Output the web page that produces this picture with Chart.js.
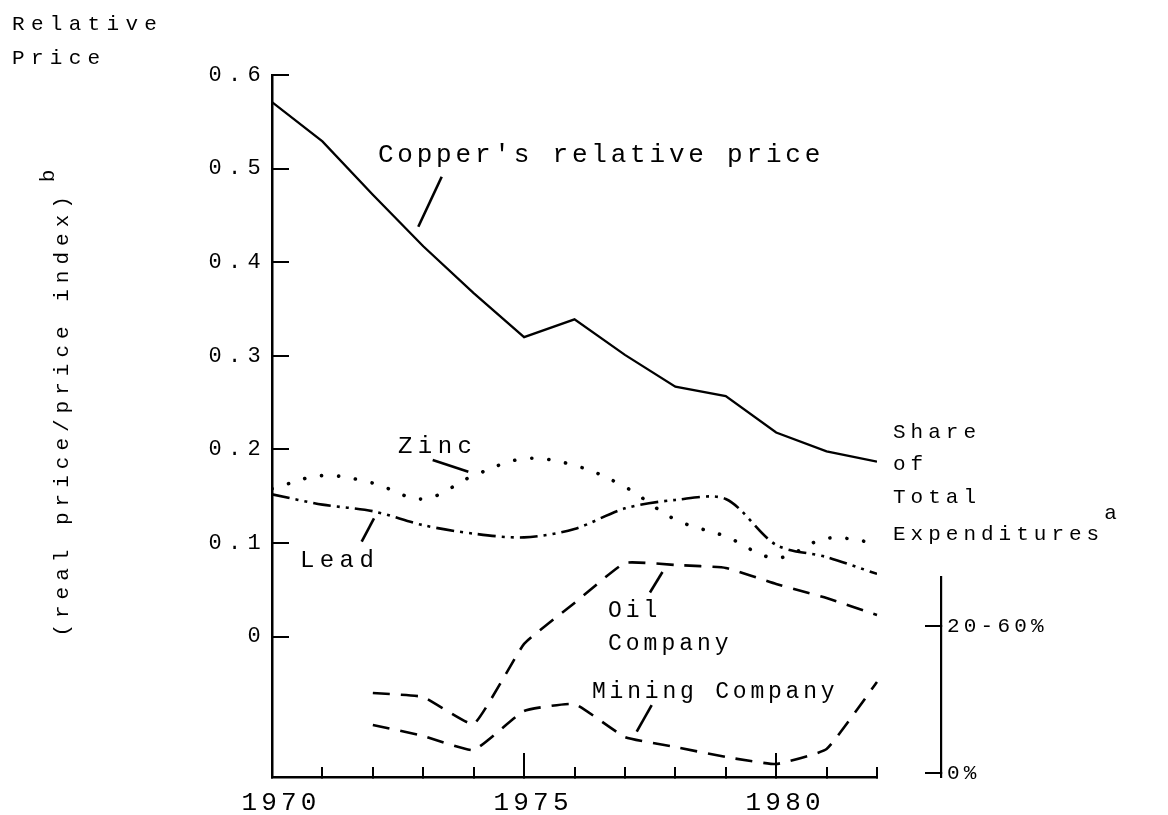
<!DOCTYPE html>
<html>
<head>
<meta charset="utf-8">
<script src="https://cdn.jsdelivr.net/npm/chart.js@4.4.1/dist/chart.umd.min.js"></script>
<style>
  html, body { margin: 0; padding: 0; background: #fff; }
  #wrap { width: 1168px; height: 815px; position: relative; }
</style>
</head>
<body>
<div id="wrap"><canvas id="c"></canvas></div>
<script>
// ---------- data ----------
const years = [1970, 1971, 1972, 1973, 1974, 1975, 1976, 1977, 1978, 1979, 1980, 1981, 1982];
const copperPrice = [0.571, 0.529, 0.472, 0.417, 0.367, 0.320, 0.339, 0.301, 0.267, 0.257, 0.218, 0.198, 0.187];
const zincPrice   = [0.158, 0.172, 0.164, 0.147, 0.172, 0.190, 0.183, 0.160, 0.125, 0.107, 0.084, 0.105, 0.100];
const leadPrice   = [0.152, 0.141, 0.134, 0.119, 0.110, 0.106, 0.115, 0.137, 0.146, 0.147, 0.098, 0.085, 0.067];

const shareYears = [1972, 1973, 1974, 1975, 1976, 1977, 1978, 1979, 1980, 1981, 1982];
// share axis units: 0 = "0%", 1 = "20-60%"
const oilCompanyShare    = [0.544, 0.517, 0.333, 0.878, 1.156, 1.429, 1.415, 1.395, 1.286, 1.190, 1.075];
const miningCompanyShare = [0.327, 0.252, 0.156, 0.422, 0.469, 0.245, 0.177, 0.109, 0.061, 0.163, 0.619];

const yTickValues = [0, 0.1, 0.2, 0.3, 0.4, 0.5, 0.6];
const xLabelYears = [1970, 1975, 1980];
const xMajorTickYears = [1975, 1980];
const shareTickValues = [0, 1];
const shareTickLabels = ['0%', '20-60%'];

// ---------- text annotations (data coordinates on x / y) ----------
const noteLines = [
  { text: "Copper's relative price", x: 1972.10, y: 0.507, size: 26, ls: 3.8 },
  { text: 'Zinc', x: 1972.50, y: 0.196, size: 24, ls: 5.4 },
  { text: 'Lead', x: 1970.555, y: 0.0744, size: 24, ls: 5.4 },
  { text: 'Oil', x: 1976.664, y: 0.0209, size: 23, ls: 4.0 },
  { text: 'Company', x: 1976.664, y: -0.0143, size: 23, ls: 4.0 },
  { text: 'Mining Company', x: 1976.347, y: -0.0656, size: 23, ls: 3.8 },
  { text: 'Share', x: 1982.317, y: 0.2122, size: 21, ls: 5.0 },
  { text: 'of', x: 1982.317, y: 0.178, size: 21, ls: 5.0 },
  { text: 'Total', x: 1982.317, y: 0.1427, size: 21, ls: 5.0 },
  { text: 'Expenditures', x: 1982.317, y: 0.1032, size: 21, ls: 5.0, sup: 'a', supRaise: 21 }
];
const leaderLines = [
  { from: [1973.366, 0.4913], to: [1972.902, 0.4379] },
  { from: [1973.187, 0.1887], to: [1973.894, 0.1762] },
  { from: [1972.023, 0.1264], to: [1971.779, 0.1014] },
  { from: [1977.745, 0.0690], to: [1977.497, 0.0471] },
  { from: [1977.531, -0.0731], to: [1977.234, -0.1016] }
];
const yAxisTitle = { text: '(real price/price index)', sup: 'b', size: 21, ls: 6.0, offsetLeft: 204, startValue: 0, supRaise: 14, supGap: 8 };

const FONT = "'Liberation Mono', 'DejaVu Sans Mono', monospace";
const INK = '#000';
const pts = (xs, ys) => xs.map((x, i) => ({ x: x, y: ys[i] }));

// letter spacing for library-drawn texts
const spacingPlugin = {
  id: 'spacing',
  beforeDraw(chart) { chart.ctx.letterSpacing = '6.3px'; },
  afterDatasetsDraw(chart) { chart.ctx.letterSpacing = '4.2px'; },
  afterDraw(chart) { chart.ctx.letterSpacing = '0px'; }
};

const notesPlugin = {
  id: 'notes',
  afterDraw(chart) {
    const { ctx, scales, chartArea } = chart;
    const X = v => scales.x.getPixelForValue(v);
    const Y = v => scales.y.getPixelForValue(v);
    ctx.save();
    ctx.fillStyle = INK;
    ctx.strokeStyle = INK;
    ctx.textAlign = 'left';
    ctx.textBaseline = 'alphabetic';
    for (const n of noteLines) {
      ctx.font = n.size + 'px ' + FONT;
      ctx.letterSpacing = n.ls + 'px';
      const px = X(n.x), py = Y(n.y);
      ctx.fillText(n.text, px, py);
      if (n.sup) {
        const w = n.text.length * (0.6 * n.size + n.ls);
        ctx.fillText(n.sup, px + w, py - n.supRaise);
      }
    }
    ctx.lineWidth = 2.6;
    ctx.lineCap = 'butt';
    for (const l of leaderLines) {
      ctx.beginPath();
      ctx.moveTo(X(l.from[0]), Y(l.from[1]));
      ctx.lineTo(X(l.to[0]), Y(l.to[1]));
      ctx.stroke();
    }
    // rotated y-axis title
    const t = yAxisTitle;
    ctx.save();
    ctx.translate(chartArea.left - t.offsetLeft, Y(t.startValue));
    ctx.rotate(-Math.PI / 2);
    ctx.font = t.size + 'px ' + FONT;
    ctx.letterSpacing = t.ls + 'px';
    ctx.fillText(t.text, 0, 0);
    const tw = t.text.length * (0.6 * t.size + t.ls);
    ctx.fillText(t.sup, tw + t.supGap, -t.supRaise);
    ctx.restore();
    ctx.restore();
  }
};

Chart.defaults.color = INK;
Chart.defaults.font.family = FONT;

const lineBase = { borderColor: INK, backgroundColor: INK, pointRadius: 0, pointHoverRadius: 0, fill: false };

new Chart(document.getElementById('c'), {
  type: 'line',
  data: {
    datasets: [
      Object.assign({}, lineBase, { label: "Copper's relative price", data: pts(years, copperPrice), borderWidth: 2.3, tension: 0, yAxisID: 'y', xAxisID: 'x' }),
      Object.assign({}, lineBase, { label: 'Zinc', data: pts(years, zincPrice), borderWidth: 3.6, borderDash: [0.1, 17], borderCapStyle: 'round', tension: 0.35, yAxisID: 'y', xAxisID: 'x' }),
      Object.assign({}, lineBase, { label: 'Lead', data: pts(years, leadPrice), borderWidth: 2.6, borderDash: [18, 6, 3, 6, 3, 6], tension: 0.3, yAxisID: 'y', xAxisID: 'x' }),
      Object.assign({}, lineBase, { label: 'Oil Company', data: pts(shareYears, oilCompanyShare), borderWidth: 2.6, borderDash: [17, 11], tension: 0.12, yAxisID: 'y2', xAxisID: 'x', clip: false }),
      Object.assign({}, lineBase, { label: 'Mining Company', data: pts(shareYears, miningCompanyShare), borderWidth: 2.6, borderDash: [17, 11], tension: 0.12, yAxisID: 'y2', xAxisID: 'x', clip: false })
    ]
  },
  options: {
    responsive: true,
    maintainAspectRatio: false,
    animation: false,
    events: [],
    layout: { padding: { left: 12, top: 0, right: 0, bottom: 0 } },
    plugins: {
      legend: { display: false },
      tooltip: { enabled: false },
      title: {
        display: true,
        text: ['Relative', 'Price'],
        align: 'start',
        color: INK,
        font: { family: FONT, size: 21, weight: 'normal', lineHeight: 34 / 21 },
        padding: { top: 7, bottom: 0 }
      }
    },
    scales: {
      x: {
        type: 'linear', position: 'bottom', min: 1970, max: 1982, weight: 0,
        afterBuildTicks: s => { s.ticks = years.map(v => ({ value: v })); },
        afterFit: s => { s.height = 38; },
        grid: { display: true, drawOnChartArea: false, drawTicks: true, tickLength: -10, color: INK, lineWidth: 2 },
        border: { display: true, color: INK, width: 2.5 },
        ticks: {
          z: 1, autoSkip: false, maxRotation: 0, minRotation: 0, padding: 21, labelOffset: 9,
          color: INK, font: { family: FONT, size: 26 },
          callback: v => xLabelYears.includes(v) ? String(v) : ''
        }
      },
      x2: {
        type: 'linear', axis: 'x', position: 'bottom', min: 1970, max: 1982, weight: -1,
        afterBuildTicks: s => { s.ticks = xMajorTickYears.map(v => ({ value: v })); },
        afterFit: s => { s.height = 0; },
        grid: { display: true, drawOnChartArea: false, drawTicks: true, tickLength: -24, color: INK, lineWidth: 2 },
        border: { display: false },
        ticks: { display: false }
      },
      y: {
        type: 'linear', position: 'left', min: -0.15, max: 0.6,
        afterBuildTicks: s => { s.ticks = yTickValues.map(v => ({ value: v })); },
        afterFit: s => { s.width = 260; },
        grid: { display: true, drawOnChartArea: false, drawTicks: true, tickLength: -17, color: INK, lineWidth: 2 },
        border: { display: true, color: INK, width: 2.5 },
        ticks: {
          padding: 22, color: INK, font: { family: FONT, size: 22 },
          callback: v => v === 0 ? '0' : v.toFixed(1)
        }
      },
      ySpacer: {
        type: 'linear', axis: 'y', position: 'right', weight: 0,
        afterFit: s => { s.width = 64; },
        grid: { display: false }, border: { display: false }, ticks: { display: false }
      },
      yShareTop: {
        type: 'linear', axis: 'y', position: 'right', weight: 1, stack: 'share', stackWeight: 502,
        afterFit: s => { s.width = 227; },
        grid: { display: false }, border: { display: false }, ticks: { display: false }
      },
      y2: {
        type: 'linear', axis: 'y', position: 'right', weight: 2, stack: 'share', stackWeight: 200,
        min: -4 / 147, max: 196 / 147,
        afterBuildTicks: s => { s.ticks = shareTickValues.map(v => ({ value: v })); },
        afterFit: s => { s.width = 227; },
        grid: { display: true, drawOnChartArea: false, drawTicks: true, tickLength: -16, color: INK, lineWidth: 2 },
        border: { display: true, color: INK, width: 2.2 },
        ticks: {
          z: 1, padding: 22, color: INK, font: { family: FONT, size: 21 },
          callback: v => { const i = shareTickValues.indexOf(v); return i >= 0 ? shareTickLabels[i] : ''; }
        }
      }
    }
  },
  plugins: [spacingPlugin, notesPlugin]
});
</script>
</body>
</html>
